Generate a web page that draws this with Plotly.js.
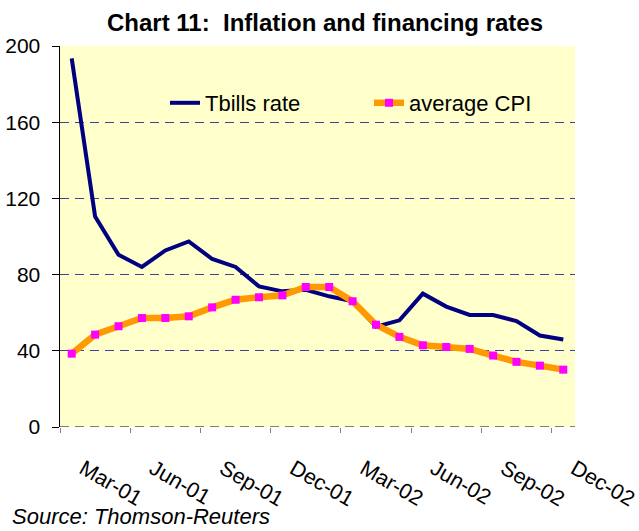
<!DOCTYPE html>
<html>
<head>
<meta charset="utf-8">
<script src="https://cdn.plot.ly/plotly-3.0.1.min.js"></script>
<style>
  html, body { margin: 0; padding: 0; background: #ffffff; }
  #chart { width: 639px; height: 531px; }
</style>
</head>
<body>
<div id="chart"></div>
<script>
// Monthly observations, Mar-01 .. Dec-02
const months = ['Mar-01','Apr-01','May-01','Jun-01','Jul-01','Aug-01','Sep-01','Oct-01','Nov-01','Dec-01','Jan-02','Feb-02',
                'Mar-02','Apr-02','May-02','Jun-02','Jul-02','Aug-02','Sep-02','Oct-02','Nov-02','Dec-02'];
const tbillsRate = [193.5, 110.5, 90.4, 84.0, 92.7, 97.4, 88.2, 84.0, 73.8, 71.2, 72.0, 68.6,
                    66.0, 52.6, 56.0, 70.0, 63.2, 58.8, 58.8, 55.6, 48.0, 45.9];
const averageCPI = [38.5, 48.5, 52.9, 57.2, 57.2, 58.1, 62.8, 66.8, 68.1, 69.1, 73.5, 73.5,
                    66.0, 53.7, 47.3, 42.9, 42.0, 41.0, 37.5, 34.2, 32.2, 30.1];
const tickLabels = ['Mar-01','Jun-01','Sep-01','Dec-01','Mar-02','Jun-02','Sep-02','Dec-02'];
const yTicks = [0, 40, 80, 120, 160, 200];

const FONT = 'Liberation Sans, Arial, Helvetica, sans-serif';
const xIdx = months.map((m, i) => i);
const tickPos = tickLabels.map(l => months.indexOf(l) - 0.5);

const traces = [
  {
    x: xIdx, y: tbillsRate, text: months, name: 'Tbills rate',
    type: 'scatter', mode: 'lines',
    line: { color: '#000080', width: 4 },
    legend: 'legend'
  },
  {
    x: xIdx, y: averageCPI, text: months, name: 'average CPI',
    type: 'scatter', mode: 'lines+markers',
    line: { color: '#FF9900', width: 6.5 },
    marker: { color: '#FF00FF', symbol: 'square', size: 8, line: { width: 0 } },
    legend: 'legend2'
  }
];

const layout = {
  width: 639, height: 531,
  margin: { l: 60, r: 64, t: 46, b: 104 },
  paper_bgcolor: '#ffffff',
  plot_bgcolor: '#FFFFCC',
  font: { family: FONT, size: 21, color: '#000000' },
  title: {
    text: '<b>Chart 11:\u00a0 Inflation and financing rates</b>',
    font: { family: FONT, size: 24, color: '#000000' },
    x: 325 / 639, xref: 'container', xanchor: 'center',
    y: 1 - 23 / 531, yref: 'container', yanchor: 'middle'
  },
  xaxis: {
    range: [-0.5, months.length - 0.5],
    tickmode: 'array', tickvals: tickPos, ticktext: tickLabels,
    tickangle: 30,
    ticks: 'outside', ticklen: 5, tickcolor: '#808080', tickwidth: 1,
    ticklabelshift: 23, ticklabelstandoff: 15,
    ticklabeloverflow: 'allow',
    tickfont: { family: FONT, size: 21.5, color: '#000000' },
    showgrid: false, zeroline: false, showline: false,
    fixedrange: true
  },
  yaxis: {
    range: [0, 200],
    tickmode: 'array', tickvals: yTicks,
    ticks: 'outside', ticklen: 7, tickcolor: '#000000', tickwidth: 1,
    ticklabelstandoff: 7,
    tickfont: { family: FONT, size: 21, color: '#000000' },
    showgrid: true, gridcolor: '#3f3f9c', gridwidth: 1, griddash: '9px,6px',
    zeroline: false,
    showline: true, linecolor: '#000000', linewidth: 1.5,
    fixedrange: true
  },
  shapes: [
    { type: 'line', xref: 'paper', yref: 'y', x0: 0, x1: 1, y0: 0, y1: 0,
      line: { color: '#000000', width: 1, dash: '9px,6px' }, layer: 'above' }
  ],
  showlegend: true,
  legend: {
    x: (165 - 60) / 515, xanchor: 'left', y: (427 - 103) / 381, yanchor: 'middle',
    bgcolor: 'rgba(0,0,0,0)', borderwidth: 0,
    font: { family: FONT, size: 22, color: '#000000' }
  },
  legend2: {
    x: (369 - 60) / 515, xanchor: 'left', y: (427 - 103) / 381, yanchor: 'middle',
    bgcolor: 'rgba(0,0,0,0)', borderwidth: 0,
    font: { family: FONT, size: 22, color: '#000000' }
  },
  annotations: [
    { text: '<i>Source: Thomson-Reuters</i>', xref: 'paper', yref: 'paper',
      x: (10 - 60) / 515, xanchor: 'left', y: (427 - 516) / 381, yanchor: 'middle',
      showarrow: false, font: { family: FONT, size: 22, color: '#000000' } }
  ]
};

Plotly.newPlot('chart', traces, layout, { displayModeBar: false, staticPlot: true });
</script>
</body>
</html>
